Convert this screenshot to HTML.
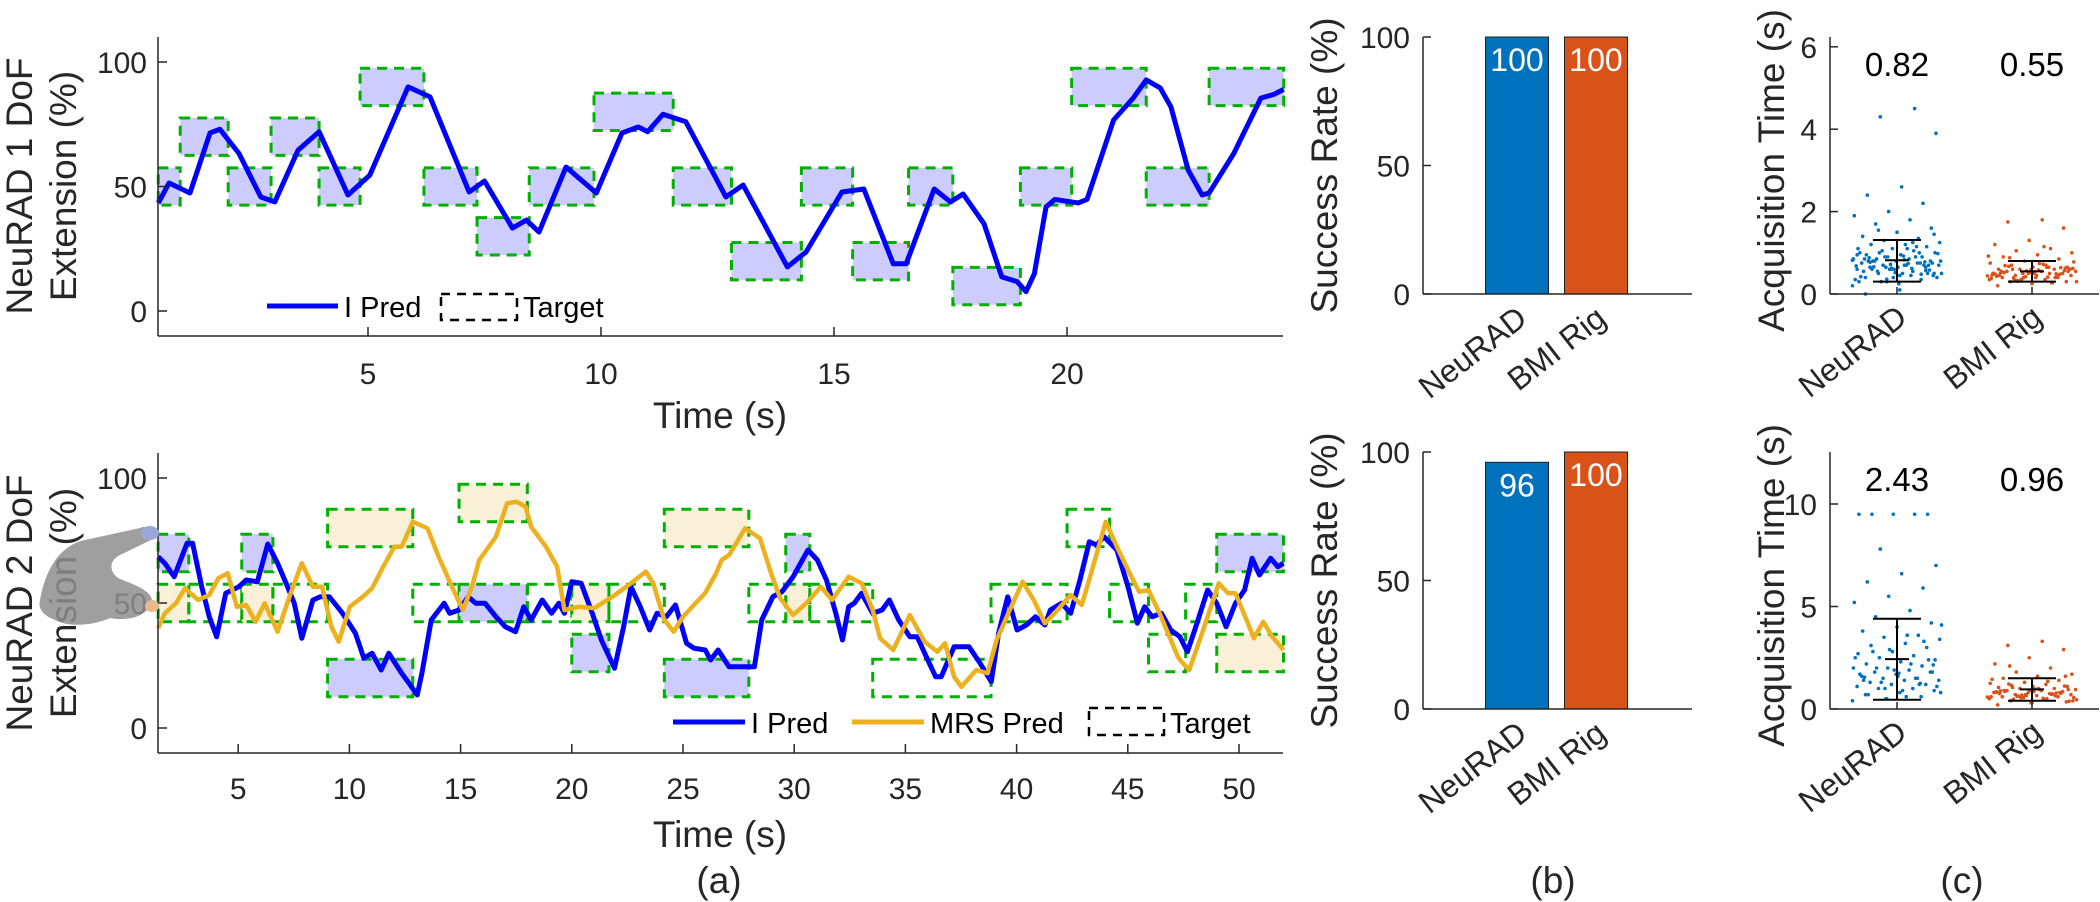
<!DOCTYPE html>
<html><head><meta charset="utf-8">
<style>
html,body{margin:0;padding:0;background:#fff;}
svg{display:block;font-family:"Liberation Sans",Arial,sans-serif;}
.tk{font-size:30px;fill:#262626;}
.ttl{font-size:37px;fill:#262626;}
.lg{font-size:29px;fill:#000;}
</style></head>
<body>
<svg id="fig" width="2100" height="902" viewBox="0 0 2100 902" xmlns="http://www.w3.org/2000/svg">
<g id="hand">
<path d="M40,600 C45,570 60,545 85,540 L140,528 C150,524 158,530 155,538 L120,555 C110,560 108,570 118,578 C135,585 150,590 152,600 C150,615 130,622 110,618 C95,625 70,628 55,620 C42,615 38,608 40,600 Z" fill="#8e8e8e" opacity="0.85"/>
<ellipse cx="150" cy="533" rx="9" ry="7" fill="#9aa8d8"/>
<ellipse cx="152" cy="606" rx="7" ry="6" fill="#e8b98a"/>
</g>
</svg>
<script>
// ---------- DATA ----------
const t1Start = [0.5,0.97,2.0,2.92,3.95,4.83,6.2,7.34,8.46,9.85,11.55,12.8,14.3,15.4,16.6,17.55,19.0,20.1,21.7,23.05];
const t1End   = [0.97,2.0,2.92,3.95,4.83,6.2,7.34,8.46,9.85,11.55,12.8,14.3,15.4,16.6,17.55,19.0,20.1,21.7,23.05,24.65];
const t1Level = [50,70,50,70,50,90,50,30,50,80,50,20,50,20,50,10,50,90,50,90];
const p1T = [0.5,0.73,1.18,1.61,1.82,2.23,2.7,3.0,3.5,3.95,4.57,5.04,5.86,6.33,7.17,7.5,8.1,8.4,8.67,9.25,9.9,10.45,10.8,11.0,11.33,11.82,12.68,13.05,14.0,14.4,15.17,15.64,16.27,16.55,17.15,17.5,17.77,18.22,18.6,18.93,19.12,19.3,19.55,19.74,20.24,20.43,21.0,21.42,21.7,22.0,22.23,22.6,22.9,23.05,23.58,24.16,24.44,24.65];
const p1V = [43.4,51.4,47.4,71.5,73,63.3,45.8,43.8,64.6,72,46.6,54.6,90,86,47.8,52.2,33.3,36.5,31.7,57.8,47.4,71.5,73.9,72,79,76,45.8,50.6,17.7,23.7,47.8,49,19,19,49,43.8,47,35,13.7,11.8,7.8,15,41.8,44.8,43.4,44.8,76.7,85.5,92.8,89.6,82,56.6,46.6,47.4,63.3,85.5,87,89];
const t2Start = [1.4,2.78,5.16,6.56,9.02,12.85,14.93,18.0,20.0,21.67,24.16,27.96,29.62,30.7,33.53,38.85,42.27,44.18,45.93,47.6,49.0];
const t2End   = [2.78,5.16,6.56,9.02,12.85,14.93,18.0,20.0,21.67,24.16,27.96,29.62,30.7,33.53,38.85,42.27,44.18,45.93,47.6,49.0,52.0];
const t2I     = [70,50,70,50,20,50,50,50,30,50,20,50,70,50,20,50,80,50,30,50,70];
const t2M     = [50,50,50,50,80,50,90,50,50,50,80,50,50,50,20,50,80,50,30,50,30];
const p2IT = [1.4,1.7,2.12,2.7,2.95,3.36,3.7,4.03,4.44,5.03,5.36,5.86,6.33,6.77,7.22,7.52,7.86,8.36,8.69,9.1,9.69,10.27,10.65,11.02,11.43,11.77,12.35,12.68,13.05,13.26,13.68,14.26,14.51,14.93,15.34,15.68,16.1,16.59,17.01,17.47,17.84,18.17,18.67,19.09,19.42,19.67,20.0,20.42,20.92,21.33,21.92,22.33,22.66,23.08,23.5,23.83,24.25,24.66,25.16,25.5,26.0,26.24,26.58,27.07,27.54,28.21,28.54,29.04,29.45,29.95,30.62,31.04,31.45,31.87,32.17,32.45,32.7,33.03,33.53,33.95,34.28,34.7,35.2,35.53,35.94,36.36,36.61,37.19,37.86,38.36,38.86,39.19,39.6,40.02,40.44,40.85,41.27,41.52,42.02,42.43,42.85,43.27,43.6,43.93,44.51,45.01,45.43,45.76,46.09,46.51,46.93,47.34,47.68,48.01,48.59,49.0,49.42,49.84,50.25,50.59,50.92,51.42,51.75,52.0];
const p2IV = [68.5,65.9,60.5,73.9,73.9,56.5,44.5,36.5,53.9,56.5,59.2,58.5,73.6,65.9,56.5,49.9,35.9,51.2,52.5,52.5,45.9,37.9,27.9,29.9,23.2,29.9,21.9,17.9,13.2,21.9,43.2,49.9,45.9,47.2,52.5,49.9,49.9,44.5,40.5,38.5,48.5,43.2,51.2,45.9,49.9,45.9,58.5,57.9,45.9,35.2,23.9,40.5,56.5,48.5,39.2,45.9,44.5,49.2,33.9,31.9,31.2,27.2,31.2,24.5,24.5,24.5,43.2,52.5,54.5,60.5,71.2,67.2,59.2,45.9,35.2,48.5,49.9,53.9,45.9,47.2,51.2,43.2,36.5,36.5,28.5,20.5,20.5,32.5,32.5,25.9,18.5,37.9,52.5,39.2,41.2,44.5,41.2,47.2,49.9,45.9,59.2,74.5,73.2,76.5,71.2,56.5,41.9,48.5,44.5,45.9,39.2,36.5,30.5,39.2,55.2,49.9,40.5,49.9,55.2,67.9,61.2,67.9,64.5,65.9];
const p2MT = [1.4,1.7,2.2,2.61,3.2,3.7,4.11,4.53,4.94,5.36,5.78,6.19,6.77,7.36,7.86,8.36,8.77,9.19,9.52,10.02,10.6,11.02,11.52,12.02,12.35,12.85,13.51,14.01,14.68,15.1,15.51,15.84,16.59,17.09,17.51,17.92,18.17,18.84,19.34,19.67,20.34,21.0,21.83,22.66,23.33,23.66,24.16,24.58,25.0,25.49,25.99,26.49,26.74,27.07,27.21,27.79,28.46,28.96,29.37,29.95,30.54,31.2,31.7,32.45,33.03,33.53,33.86,34.45,35.2,35.86,36.44,36.78,37.19,37.52,38.19,38.69,39.1,39.69,40.27,40.77,41.27,41.77,42.43,42.93,43.35,44.01,44.51,45.01,45.51,45.93,46.43,47.25,47.42,47.76,48.34,49.09,49.51,49.84,50.34,50.67,51.09,51.5,52.0];
const p2MV = [39.9,45.9,49.9,55.9,51.2,53.2,59.9,61.9,48.5,49.2,42.5,49.9,38.5,53.9,65.9,56.5,56.5,40.5,34.5,48.5,52.5,55.9,64.5,72.5,72.5,82.5,79.9,68.5,55.2,47.2,56.5,67.2,76.5,89.9,90.5,88.5,80.5,72.5,64.5,47.2,48.5,47.9,52.5,57.9,62.5,57.9,43.2,38.5,44.5,49.2,53.9,61.9,67.2,69.2,71.2,79.9,75.9,61.9,51.9,45.2,49.9,56.5,51.2,60.5,57.9,47.2,35.9,31.2,45.2,34.5,30.5,33.9,20.5,16.5,23.2,21.9,35.2,47.2,58.5,51.2,41.9,46.5,53.2,49.2,61.9,82.5,72.5,63.2,54.5,55.2,45.9,28.5,26.5,23.2,37.9,57.9,53.9,53.9,43.2,35.9,42.5,36.5,31.2];
const barCats = ["NeuRAD","BMI Rig"];
const succ1 = [100,100];
const succ2 = [96,100];
const acqMean1 = [0.82,0.55], acqLo1 = [0.3,0.3], acqHi1 = [1.31,0.8];
const acqMean2 = [2.43,0.96], acqLo2 = [0.45,0.4], acqHi2 = [4.4,1.5];
const acq1N = [0.2,0.3,0.35,0.4,0.45,0.5,0.5,0.55,0.6,0.6,0.65,0.65,0.7,0.7,0.7,0.75,0.75,0.8,0.8,0.8,0.85,0.85,0.9,0.9,0.95,0.95,1.0,1.0,1.05,1.1,1.1,1.15,1.2,1.2,1.25,1.3,1.35,1.4,1.5,1.6,1.7,1.8,1.9,2.0,2.2,2.4,2.6,3.9,4.3,4.5,0.3,0.4,0.5,0.6,0.7,0.8,0.9,1.0,0.55,0.65,0.75,0.85,0.45,0.35,0.6,0.7,0.8,0.5,0.4,0.3,0.9,1.0,0.6,0.7,0.8,1.1,0.5,0.65,0.75,0.85,0.25,0.45,0.55,0.62,0.68,0.72,0.78,0.88,0.92,0.98,1.05,1.15,0.42,0.52,0.58,0.66,0.74,0.82,0.36,0.48,0.0,0.1,1.45,1.55,1.25,0.95,0.63,0.57,0.77,0.83];
const acq1B = [0.2,0.25,0.3,0.3,0.35,0.35,0.4,0.4,0.4,0.45,0.45,0.45,0.5,0.5,0.5,0.5,0.55,0.55,0.55,0.6,0.6,0.6,0.65,0.65,0.7,0.7,0.75,0.8,0.85,0.9,0.95,1.0,1.05,1.1,1.2,1.3,1.6,1.75,1.8,0.3,0.35,0.4,0.45,0.5,0.55,0.6,0.65,0.38,0.42,0.48,0.52,0.58,0.62,0.33,0.28,0.47,0.53,0.57,0.67,0.72,0.44,0.36,0.49,0.51,0.54,0.61,0.39,0.41,0.46,0.56,0.64,0.69,0.74,0.78,0.31,0.27,0.43,0.59,0.63,0.88,1.15,0.92,0.5,0.45,0.55,0.4,0.6,0.35,0.65,0.5];
const acq2N = [0.4,0.5,0.6,0.7,0.8,0.9,1.0,1.0,1.1,1.2,1.2,1.3,1.4,1.4,1.5,1.5,1.6,1.7,1.8,1.8,1.9,2.0,2.0,2.1,2.2,2.3,2.4,2.5,2.6,2.7,2.8,3.0,3.1,3.2,3.4,3.5,3.6,3.8,4.0,4.2,4.5,4.8,5.2,5.5,5.9,6.2,6.6,7.0,7.8,9.5,9.5,9.5,9.5,9.5,0.6,0.8,1.0,1.2,1.4,1.6,1.8,2.0,2.2,2.5,2.9,3.3,0.7,0.9,1.1,1.3,1.5,1.7,1.9,2.4,2.8,3.6,4.1,0.5,1.25,1.55,1.75,2.15];
const acq2B = [0.2,0.3,0.35,0.4,0.45,0.5,0.55,0.6,0.6,0.65,0.7,0.7,0.75,0.8,0.8,0.85,0.9,0.9,0.95,1.0,1.0,1.05,1.1,1.1,1.15,1.2,1.25,1.3,1.4,1.5,1.6,1.7,1.8,2.0,2.2,2.5,2.9,3.1,3.3,0.45,0.55,0.65,0.75,0.85,0.95,1.05,0.5,0.6,0.7,0.8,0.9,1.0,0.4,0.62,0.72,0.82,0.92,1.12,1.22,0.52,0.58,0.68,0.78,0.88,0.98,0.38,0.48,1.35,1.45,0.66,0.76,0.86,0.96,0.56,0.64,0.74,0.84,0.3,1.6,2.1];

// ---------- HELPERS ----------
const NS = "http://www.w3.org/2000/svg";
const svg = document.getElementById("fig");
function mk(tag, attrs, parent) {
  const e = document.createElementNS(NS, tag);
  for (const k in attrs) e.setAttribute(k, attrs[k]);
  (parent || svg).appendChild(e);
  return e;
}
function txt(s, attrs, parent) { const e = mk("text", attrs, parent); e.textContent = s; return e; }
const AX = "#262626";

const xT = t => 135 + 46.6 * t, yT = v => 311 - 2.49 * v;
const xB = t => 127 + 22.24 * t, yB = v => 728 - 2.5 * v;
const xS = c => 1517 + 79 * c;
const yS1 = v => 294 - 2.57 * v, yS2 = v => 709 - 2.57 * v;
const xA = c => 1897 + 135 * c;
const yA1 = v => 294 - 41.2 * v, yA2 = v => 709 - 20.5 * v;

// ---------- TOP LEFT ----------
const gTop = mk("g", {});


for (let i = 0; i < t1Start.length; i++) {
  const r = mk("rect", {x: xT(t1Start[i]), y: yT(t1Level[i] + 7.5), width: xT(t1End[i]) - xT(t1Start[i]), height: yT(t1Level[i] - 7.5) - yT(t1Level[i] + 7.5), fill: "#ccccff", stroke: "#00b000", "stroke-width": 3, "stroke-dasharray": "10 7"}, gTop);
  
  
}
const l1 = mk("polyline", {points: p1T.map((t, i) => xT(t) + "," + yT(p1V[i])).join(" "), fill: "none", stroke: "#0000ff", "stroke-width": 5, "stroke-linejoin": "round"}, gTop);


mk("line", {x1: 158, y1: 37, x2: 158, y2: 336, stroke: AX, "stroke-width": 1.5}, gTop);
mk("line", {x1: 158, y1: 336, x2: 1283, y2: 336, stroke: AX, "stroke-width": 1.5}, gTop);
[0, 50, 100].forEach(v => {
  mk("line", {x1: 158, y1: yT(v), x2: 167, y2: yT(v), stroke: AX, "stroke-width": 1.5}, gTop);
  txt(v, {x: 147, y: yT(v) + 11, "text-anchor": "end", class: "tk"}, gTop);
});
[5, 10, 15, 20].forEach(t => {
  mk("line", {x1: xT(t), y1: 336, x2: xT(t), y2: 327, stroke: AX, "stroke-width": 1.5}, gTop);
  txt(t, {x: xT(t), y: 384, "text-anchor": "middle", class: "tk"}, gTop);
});
const xt1 = txt("Time (s)", {x: 720, y: 428, "text-anchor": "middle", class: "ttl"}, gTop);


const yt1 = txt("", {transform: "translate(0,186) rotate(-90)", "text-anchor": "middle", class: "ttl"}, gTop);


mk("tspan", {x: 0, y: 32}, yt1).textContent = "NeuRAD 1 DoF";
mk("tspan", {x: 0, y: 76}, yt1).textContent = "Extension (%)";
const lgT = mk("g", {}, gTop);


mk("line", {x1: 267, y1: 306, x2: 338, y2: 306, stroke: "#0000ff", "stroke-width": 5}, lgT);
txt("I Pred", {x: 344, y: 317, class: "lg"}, lgT);
mk("rect", {x: 441, y: 294, width: 76, height: 26, fill: "none", stroke: "#000", "stroke-width": 2.5, "stroke-dasharray": "9 7"}, lgT);
txt("Target", {x: 523, y: 317, class: "lg"}, lgT);

// ---------- BOTTOM LEFT ----------
const gBot = mk("g", {});


function box(t0, t1, lv, fill, p) {
  const r = mk("rect", {x: xB(t0), y: yB(lv + 7.5), width: xB(t1) - xB(t0), height: yB(lv - 7.5) - yB(lv + 7.5), fill: fill, stroke: "#00b000", "stroke-width": 3, "stroke-dasharray": "10 7"}, p);
  
  
}
for (let i = 0; i < t2Start.length; i++) {
  if (t2I[i] === t2M[i]) { box(t2Start[i], t2End[i], t2I[i], "none", gBot); }
  else {
    box(t2Start[i], t2End[i], t2I[i], "#ccccff", gBot);
    box(t2Start[i], t2End[i], t2M[i], "#faf0d7", gBot);
  }
}
const l2 = mk("polyline", {points: p2IT.map((t, i) => xB(t) + "," + yB(p2IV[i])).join(" "), fill: "none", stroke: "#0000ff", "stroke-width": 5, "stroke-linejoin": "round"}, gBot);


const l3 = mk("polyline", {points: p2MT.map((t, i) => xB(t) + "," + yB(p2MV[i])).join(" "), fill: "none", stroke: "#edb120", "stroke-width": 4.5, "stroke-linejoin": "round"}, gBot);


mk("line", {x1: 158, y1: 453, x2: 158, y2: 753, stroke: AX, "stroke-width": 1.5}, gBot);
mk("line", {x1: 158, y1: 753, x2: 1283, y2: 753, stroke: AX, "stroke-width": 1.5}, gBot);
[0, 50, 100].forEach(v => {
  mk("line", {x1: 158, y1: yB(v), x2: 167, y2: yB(v), stroke: AX, "stroke-width": 1.5}, gBot);
  txt(v, {x: 147, y: yB(v) + 11, "text-anchor": "end", class: "tk"}, gBot);
});
[5,10,15,20,25,30,35,40,45,50].forEach(t => {
  mk("line", {x1: xB(t), y1: 753, x2: xB(t), y2: 744, stroke: AX, "stroke-width": 1.5}, gBot);
  txt(t, {x: xB(t), y: 799, "text-anchor": "middle", class: "tk"}, gBot);
});
const xt2 = txt("Time (s)", {x: 720, y: 847, "text-anchor": "middle", class: "ttl"}, gBot);


const yt2 = txt("", {transform: "translate(0,603) rotate(-90)", "text-anchor": "middle", class: "ttl"}, gBot);


mk("tspan", {x: 0, y: 32}, yt2).textContent = "NeuRAD 2 DoF";
mk("tspan", {x: 0, y: 76}, yt2).textContent = "Extension (%)";
const lgB = mk("g", {}, gBot);


mk("line", {x1: 673, y1: 722, x2: 745, y2: 722, stroke: "#0000ff", "stroke-width": 5}, lgB);
txt("I Pred", {x: 751, y: 733, class: "lg"}, lgB);
mk("line", {x1: 852, y1: 722, x2: 924, y2: 722, stroke: "#edb120", "stroke-width": 5}, lgB);
txt("MRS Pred", {x: 930, y: 733, class: "lg"}, lgB);
mk("rect", {x: 1089, y: 708, width: 75, height: 27, fill: "none", stroke: "#000", "stroke-width": 2.5, "stroke-dasharray": "9 7"}, lgB);
txt("Target", {x: 1170, y: 733, class: "lg"}, lgB);
svg.appendChild(document.getElementById("hand"));

// ---------- BARS ----------
function barPanel(vals, yS, top, bottom, name) {
  const g = mk("g", {});
  
  
  const cols = ["#0072bd", "#d95319"];
  vals.forEach((v, i) => {
    const r = mk("rect", {x: xS(i) - 31.5, y: yS(v), width: 63, height: yS(0) - yS(v), fill: cols[i], stroke: "#222", "stroke-width": 1}, g);
    
    
    txt(v, {x: xS(i), y: yS(v) + 34, "text-anchor": "middle", class: "tk", style: "fill:#fff;font-size:32px"}, g);
    txt(barCats[i], {transform: "translate(" + (xS(i) + 12) + "," + (bottom + 28) + ") rotate(-38)", "text-anchor": "end", class: "tk", style: "font-size:32px"}, g);
  });
  mk("line", {x1: 1423, y1: top, x2: 1423, y2: bottom, stroke: AX, "stroke-width": 1.5}, g);
  mk("line", {x1: 1423, y1: bottom, x2: 1692, y2: bottom, stroke: AX, "stroke-width": 1.5}, g);
  [0, 50, 100].forEach(v => {
    mk("line", {x1: 1423, y1: yS(v), x2: 1431, y2: yS(v), stroke: AX, "stroke-width": 1.5}, g);
    txt(v, {x: 1410, y: yS(v) + 11, "text-anchor": "end", class: "tk"}, g);
  });
  const yt = txt("Success Rate (%)", {transform: "translate(1337," + ((top + bottom) / 2) + ") rotate(-90)", "text-anchor": "middle", class: "ttl"}, g);
  
  
}
barPanel(succ1, yS1, 37, 294, "success-rate-1dof");
barPanel(succ2, yS2, 452, 709, "success-rate-2dof");

// ---------- ACQUISITION ----------
function acqPanel(samples, means, lo, hi, yA, top, bottom, ticks, name) {
  const g = mk("g", {});
  
  
  const cols = ["#0072bd", "#d95319"];
  samples.forEach((arr, c) => {
    arr.forEach((v, i) => {
      const j = (((i * 37 + c * 11) % 97) / 96 * 2 - 1) * 0.33;
      const p = mk("circle", {cx: xA(c + j), cy: yA(v), r: 1.8, fill: cols[c]}, g);
      
      
    });
  });
  means.forEach((m, c) => {
    const x = xA(c);
    const eb = mk("g", {stroke: "#000", "stroke-width": 2}, g);
    
    
    mk("line", {x1: x, y1: yA(lo[c]), x2: x, y2: yA(hi[c])}, eb);
    mk("line", {x1: x - 24, y1: yA(lo[c]), x2: x + 24, y2: yA(lo[c])}, eb);
    mk("line", {x1: x - 24, y1: yA(hi[c]), x2: x + 24, y2: yA(hi[c])}, eb);
    mk("line", {x1: x - 12, y1: yA(m), x2: x + 12, y2: yA(m)}, eb);
    txt(m.toFixed(2), {x: x, y: top + 39, "text-anchor": "middle", class: "tk", style: "font-size:33px;fill:#000"}, g);
    txt(barCats[c], {transform: "translate(" + (x + 12) + "," + (bottom + 27) + ") rotate(-38)", "text-anchor": "end", class: "tk", style: "font-size:32px"}, g);
    mk("line", {x1: x, y1: bottom, x2: x, y2: bottom - 7, stroke: AX, "stroke-width": 1.5}, g);
  });
  mk("line", {x1: 1830, y1: top, x2: 1830, y2: bottom, stroke: AX, "stroke-width": 1.5}, g);
  mk("line", {x1: 1830, y1: bottom, x2: 2099, y2: bottom, stroke: AX, "stroke-width": 1.5}, g);
  ticks.forEach(v => {
    mk("line", {x1: 1830, y1: yA(v), x2: 1838, y2: yA(v), stroke: AX, "stroke-width": 1.5}, g);
    txt(v, {x: 1817, y: yA(v) + 11, "text-anchor": "end", class: "tk"}, g);
  });
  const yt = txt("Acquisition Time (s)", {transform: "translate(1784," + ((top + bottom) / 2 + 5) + ") rotate(-90)", "text-anchor": "middle", class: "ttl"}, g);
  
  
}
acqPanel([acq1N, acq1B], acqMean1, acqLo1, acqHi1, yA1, 37, 294, [0, 2, 4, 6], "acquisition-time-1dof");
acqPanel([acq2N, acq2B], acqMean2, acqLo2, acqHi2, yA2, 452, 709, [0, 5, 10], "acquisition-time-2dof");

[["(a)", 719], ["(b)", 1553], ["(c)", 1962]].forEach(([s, x]) => {
  const e = txt(s, {x: x, y: 893, "text-anchor": "middle", class: "ttl"});
  
  
});
</script>
</body></html>
